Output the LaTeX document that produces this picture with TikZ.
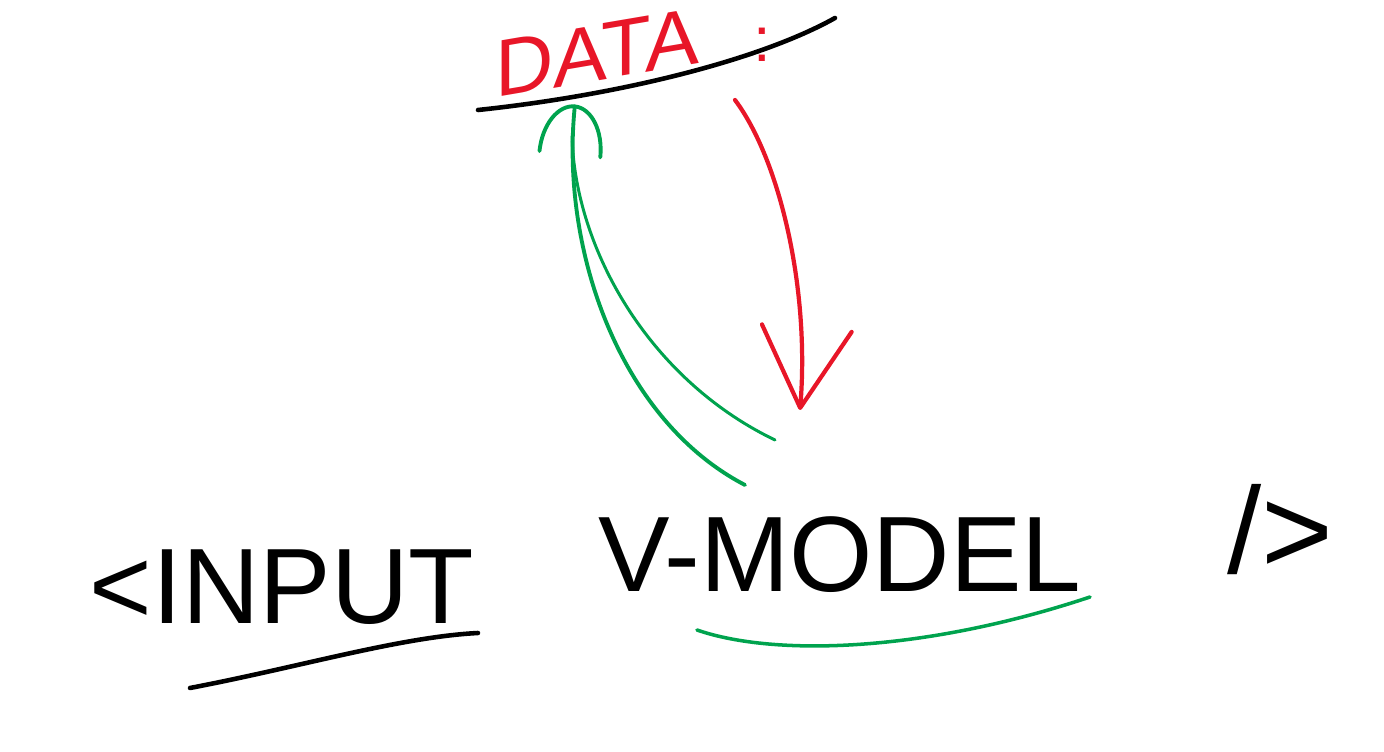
\documentclass[tikz,border=0pt]{standalone}
\usepackage{fontspec}
\setmainfont{Liberation Sans}
\usetikzlibrary{arrows.meta}
\definecolor{inkred}{RGB}{232,22,40}
\definecolor{inkgreen}{RGB}{0,163,78}
\tikzset{
    > = {Arc Barb[length=1cm, width=1.3cm, round]},
    every path/.style = {line cap=round, line join=round},
    word/.style = {inner sep=0pt, font=\fontsize{61}{61}\selectfont},
    stroke/.style = {line width=2.6pt}
}

\begin{document}
\begin{tikzpicture}
    \useasboundingbox (0, 0) rectangle (27.68, 15.04);

    \node[word, inkred, font=\fontsize{46}{46}\selectfont, anchor=base west, yslant=0.17] (data) at (9.9, 13.08) {DATA};
    \node[word, inkred, font=\fontsize{36}{36}\selectfont] (colon) at (15.25, 14.15) {:};
    \node[word] (input) at (5.64, 3.3) {<INPUT};
    \node[word] (model) at (16.8, 3.94) {V-MODEL};
    \node[word, font=\fontsize{70}{70}\selectfont] (close) at (25.6, 4.44) {/>};

    \coordinate (g1) at (14.9, 5.34);
    \coordinate (g2) at (15.5, 6.24);
    \coordinate (r1) at (14.7, 13.04);
    \coordinate (r2) at (16.0, 6.84);

    % underlines
    \draw[stroke] (9.56, 12.84) .. controls (12.4, 13.14) and (15.2, 13.84) .. (16.7, 14.68);
    \draw[stroke] (3.8, 1.28) .. controls (6.0, 1.7) and (8.0, 2.3) .. (9.56, 2.38);
    \draw[stroke, inkgreen, line width=2pt] (13.94, 2.44) .. controls (15.5, 1.9) and (18.5, 2.0) .. (21.8, 3.1);

    % arrows
    \draw[->, inkgreen, line width=2.2pt] (g1) .. controls (12.4, 6.64) and (11.2, 10.04) .. (11.5, 12.95);
    \draw[inkgreen, line width=1.7pt] (g2) .. controls (13.0, 7.44) and (11.5, 10.04) .. (11.44, 12.32);
    \draw[->, inkred, line width=2.4pt, > = {Straight Barb[length=1.6cm, width=1.8cm, round]}] (r1) .. controls (15.6, 11.84) and (16.2, 9.24) .. (r2);
\end{tikzpicture}
\end{document}
